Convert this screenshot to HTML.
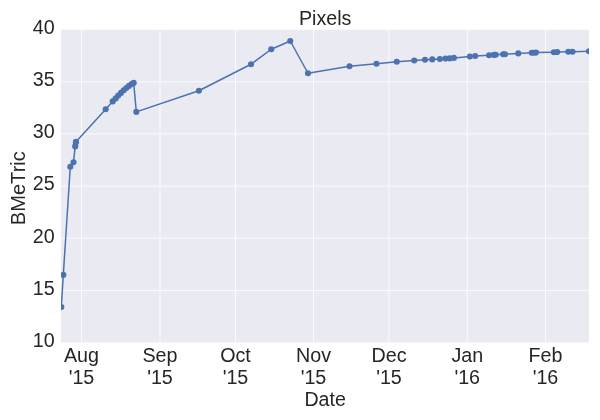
<!DOCTYPE html><html><head><meta charset="utf-8"><title>Pixels</title>
<style>html,body{margin:0;padding:0;background:#fff}svg{display:block;will-change:transform}text{font-family:"Liberation Sans",Arial,Helvetica,sans-serif;fill:#262626}</style></head><body>
<svg width="600" height="420" viewBox="0 0 600 420">
<rect x="0" y="0" width="600" height="420" fill="#fff"/>
<defs><clipPath id="c"><rect x="61" y="29.6" width="528" height="313"/></clipPath></defs>
<rect x="61" y="29.6" width="528" height="313" fill="#EAEAF2"/>
<g clip-path="url(#c)">
<g stroke="#fff" stroke-width="0.8">
<line x1="81.5" y1="29.6" x2="81.5" y2="342.6"/>
<line x1="160" y1="29.6" x2="160" y2="342.6"/>
<line x1="235.5" y1="29.6" x2="235.5" y2="342.6"/>
<line x1="313.5" y1="29.6" x2="313.5" y2="342.6"/>
<line x1="389" y1="29.6" x2="389" y2="342.6"/>
<line x1="467.25" y1="29.6" x2="467.25" y2="342.6"/>
<line x1="545.5" y1="29.6" x2="545.5" y2="342.6"/>
<line x1="61" y1="29.6" x2="589" y2="29.6"/>
<line x1="61" y1="81.7667" x2="589" y2="81.7667"/>
<line x1="61" y1="133.933" x2="589" y2="133.933"/>
<line x1="61" y1="186.1" x2="589" y2="186.1"/>
<line x1="61" y1="238.267" x2="589" y2="238.267"/>
<line x1="61" y1="290.433" x2="589" y2="290.433"/>
<line x1="61" y1="342.6" x2="589" y2="342.6"/>
</g>
<polyline fill="none" stroke="#4C72B0" stroke-width="1.5" stroke-linejoin="round" stroke-linecap="round" points="61.3,307.1 63.3,274.9 70.3,166.8 73.5,162.2 75.2,146.4 75.85,142.4 76,141.8 105.7,109.3 112.7,101.4 115.7,98.4 118.3,95.6 121,92.9 123.7,90.3 126.3,88 129,85.9 131.7,84 133.7,82.9 136.3,111.9 198.9,90.75 251,64.25 271.25,49.25 290.25,41 308,73.25 349.5,66.25 376.5,63.75 396.75,61.75 414.25,60.5 425,59.7 432.3,59.4 439.9,59 445.5,58.6 449.7,58.4 453.9,57.9 469.9,56.5 475.2,56 489.1,55.3 493.9,54.9 495.7,54.8 503.2,54.3 505,54.2 518.3,53.4 531.7,52.8 533.8,52.7 536,52.6 553.8,52.2 557.2,52.1 568.3,51.8 572.5,51.7 589,51.3"/>
<g fill="#4C72B0">
<circle cx="61.3" cy="307.1" r="3.05"/>
<circle cx="63.3" cy="274.9" r="3.05"/>
<circle cx="70.3" cy="166.8" r="3.05"/>
<circle cx="73.5" cy="162.2" r="3.05"/>
<circle cx="75.2" cy="146.4" r="3.05"/>
<circle cx="75.85" cy="142.4" r="3.05"/>
<circle cx="76" cy="141.8" r="3.05"/>
<circle cx="105.7" cy="109.3" r="3.05"/>
<circle cx="112.7" cy="101.4" r="3.05"/>
<circle cx="115.7" cy="98.4" r="3.05"/>
<circle cx="118.3" cy="95.6" r="3.05"/>
<circle cx="121" cy="92.9" r="3.05"/>
<circle cx="123.7" cy="90.3" r="3.05"/>
<circle cx="126.3" cy="88" r="3.05"/>
<circle cx="129" cy="85.9" r="3.05"/>
<circle cx="131.7" cy="84" r="3.05"/>
<circle cx="133.7" cy="82.9" r="3.05"/>
<circle cx="136.3" cy="111.9" r="3.05"/>
<circle cx="198.9" cy="90.75" r="3.05"/>
<circle cx="251" cy="64.25" r="3.05"/>
<circle cx="271.25" cy="49.25" r="3.05"/>
<circle cx="290.25" cy="41" r="3.05"/>
<circle cx="308" cy="73.25" r="3.05"/>
<circle cx="349.5" cy="66.25" r="3.05"/>
<circle cx="376.5" cy="63.75" r="3.05"/>
<circle cx="396.75" cy="61.75" r="3.05"/>
<circle cx="414.25" cy="60.5" r="3.05"/>
<circle cx="425" cy="59.7" r="3.05"/>
<circle cx="432.3" cy="59.4" r="3.05"/>
<circle cx="439.9" cy="59" r="3.05"/>
<circle cx="445.5" cy="58.6" r="3.05"/>
<circle cx="449.7" cy="58.4" r="3.05"/>
<circle cx="453.9" cy="57.9" r="3.05"/>
<circle cx="469.9" cy="56.5" r="3.05"/>
<circle cx="475.2" cy="56" r="3.05"/>
<circle cx="489.1" cy="55.3" r="3.05"/>
<circle cx="493.9" cy="54.9" r="3.05"/>
<circle cx="495.7" cy="54.8" r="3.05"/>
<circle cx="503.2" cy="54.3" r="3.05"/>
<circle cx="505" cy="54.2" r="3.05"/>
<circle cx="518.3" cy="53.4" r="3.05"/>
<circle cx="531.7" cy="52.8" r="3.05"/>
<circle cx="533.8" cy="52.7" r="3.05"/>
<circle cx="536" cy="52.6" r="3.05"/>
<circle cx="553.8" cy="52.2" r="3.05"/>
<circle cx="557.2" cy="52.1" r="3.05"/>
<circle cx="568.3" cy="51.8" r="3.05"/>
<circle cx="572.5" cy="51.7" r="3.05"/>
<circle cx="589" cy="51.3" r="3.05"/>
</g></g>
<g font-size="19.7" text-anchor="end">
<text x="54.6" y="33.9">40</text>
<text x="54.6" y="86.0667">35</text>
<text x="54.6" y="138.233">30</text>
<text x="54.6" y="190.4">25</text>
<text x="54.6" y="242.567">20</text>
<text x="54.6" y="294.733">15</text>
<text x="54.6" y="346.9">10</text>
</g>
<g font-size="19.7" text-anchor="middle">
<text x="81.5" y="361.6">Aug</text>
<text x="81.5" y="383.7">'15</text>
<text x="160" y="361.6">Sep</text>
<text x="160" y="383.7">'15</text>
<text x="235.5" y="361.6">Oct</text>
<text x="235.5" y="383.7">'15</text>
<text x="313.5" y="361.6">Nov</text>
<text x="313.5" y="383.7">'15</text>
<text x="389" y="361.6">Dec</text>
<text x="389" y="383.7">'15</text>
<text x="467.25" y="361.6">Jan</text>
<text x="467.25" y="383.7">'16</text>
<text x="545.5" y="361.6">Feb</text>
<text x="545.5" y="383.7">'16</text>
</g>
<text x="325.2" y="24.8" font-size="19.7" text-anchor="middle">Pixels</text>
<text x="325.1" y="406.4" font-size="19.6" text-anchor="middle">Date</text>
<text transform="translate(25.3,188.2) rotate(-90)" font-size="20.1" text-anchor="middle">BMeTric</text>
</svg></body></html>
